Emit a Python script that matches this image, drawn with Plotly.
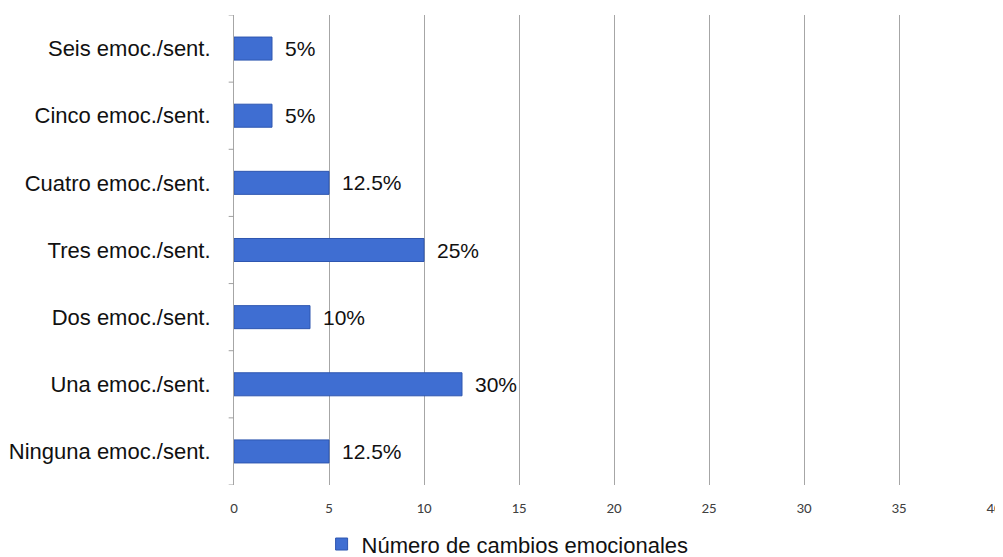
import plotly.graph_objects as go

categories = ["Ninguna emoc./sent.", "Una emoc./sent.", "Dos emoc./sent.", "Tres emoc./sent.",
              "Cuatro emoc./sent.", "Cinco emoc./sent.", "Seis emoc./sent."]
values = [5, 12, 4, 10, 5, 2, 2]
pct_labels = ["12.5%", "30%", "10%", "25%", "12.5%", "5%", "5%"]
series_name = "Número de cambios emocionales"
x_ticks = [0, 5, 10, 15, 20, 25, 30, 35, 40]

FONT = "Arial, Liberation Sans, sans-serif"

fig = go.Figure()
fig.add_trace(go.Bar(
    y=categories, x=values, orientation="h", name=series_name,
    marker=dict(color="#3F6ED2", line=dict(color="#2E56B0", width=1)),
    showlegend=True,
))

for c, v, t in zip(categories, values, pct_labels):
    fig.add_annotation(x=v, y=c, text=t, showarrow=False, xanchor="left", xshift=11,
                       font=dict(family=FONT, size=21, color="#111111"))

# category-boundary tick marks on the y axis
shapes = []
for i in range(len(categories) + 1):
    shapes.append(dict(type="line", xref="paper", yref="y", x0=-0.007, x1=0,
                       y0=i - 0.5, y1=i - 0.5, line=dict(color="#A0A0A0", width=1)))
fig.update_layout(shapes=shapes)

# page body has an 8px default margin, so the figure is sized to fit the window
fig.update_layout(
    width=995, height=549,
    margin=dict(l=226, r=9, t=7, b=72, autoexpand=False),
    paper_bgcolor="white", plot_bgcolor="white",
    bargap=0.657,
    font=dict(family=FONT, color="#111111"),
    xaxis=dict(range=[0, 40], tickvals=x_ticks, showgrid=True, gridcolor="#A6A6A6", gridwidth=1,
               zeroline=False, showline=False, ticks="", automargin=False,
               tickfont=dict(family="Carlito, Calibri, Open Sans, sans-serif", size=15, color="#404040"),
               ticklabelstandoff=12, ticklabeloverflow="allow"),
    yaxis=dict(showline=True, linecolor="#A6A6A6", linewidth=1, ticks="", automargin=False,
               range=[-0.5, 6.5], tickfont=dict(family=FONT, size=22, color="#111111"),
               ticklabelstandoff=18),
    legend=dict(orientation="h", x=0.36, xanchor="center", y=-0.126, yanchor="middle",
                font=dict(family=FONT, size=22, color="#111111"), itemwidth=30,
                tracegroupgap=0, borderwidth=0),
)

fig.write_html("out.html")
